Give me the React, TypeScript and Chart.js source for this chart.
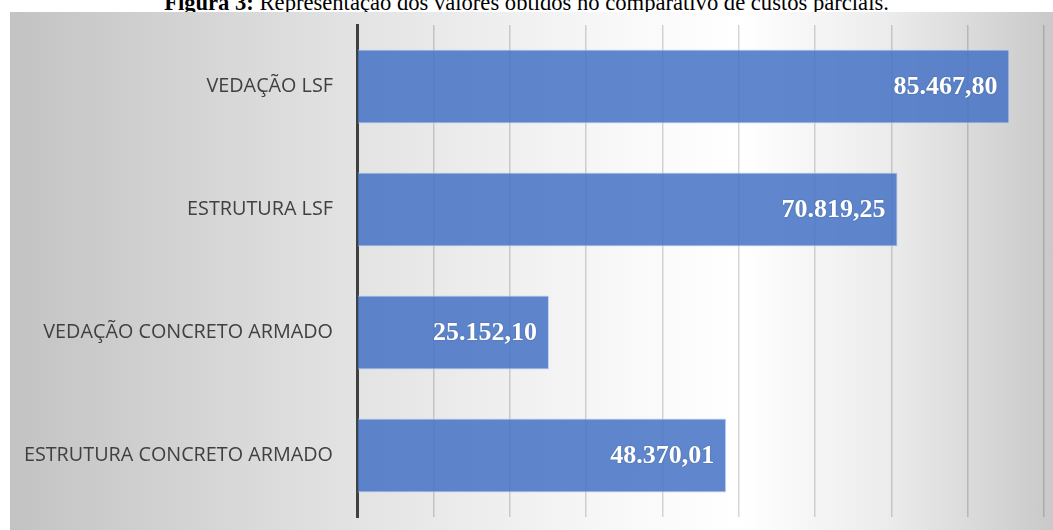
import React, { useEffect, useRef } from "react";
import { Chart, registerables } from "chart.js";

Chart.register(...registerables);

const categories: string[] = [
  "VEDAÇÃO LSF",
  "ESTRUTURA LSF",
  "VEDAÇÃO CONCRETO ARMADO",
  "ESTRUTURA CONCRETO ARMADO",
];
const values: number[] = [85467.8, 70819.25, 25152.1, 48370.01];
const axisMin = 0;
const axisMax = 90000;
const axisStep = 10000;

function formatBR(v: number): string {
  const fixed = v.toFixed(2);
  const [intPart, dec] = fixed.split(".");
  const withDots = intPart.replace(/\B(?=(\d{3})+(?!\d))/g, ".");
  return withDots + "," + dec;
}

const valueLabels = {
  id: "valueLabels",
  afterDatasetsDraw(chart: any) {
    const ctx = chart.ctx;
    const meta = chart.getDatasetMeta(0);
    ctx.save();
    ctx.font = "bold 26px 'Liberation Serif', 'Times New Roman', serif";
    ctx.fillStyle = "#ffffff";
    ctx.textAlign = "right";
    ctx.textBaseline = "middle";
    ctx.shadowColor = "rgba(0,0,0,0.25)";
    ctx.shadowBlur = 2;
    meta.data.forEach((bar: any, i: number) => {
      const v = chart.data.datasets[0].data[i] as number;
      ctx.fillText(formatBR(v), bar.x - 12, bar.y + 1);
    });
    ctx.restore();
  },
};

export default function App() {
  const canvasRef = useRef<HTMLCanvasElement | null>(null);

  useEffect(() => {
    if (!canvasRef.current) return;
    const chart = new Chart(canvasRef.current, {
      type: "bar",
      data: {
        labels: categories,
        datasets: [
          {
            data: values,
            backgroundColor: "rgba(68,114,196,0.85)",
            borderColor: "rgba(190,210,240,0.9)",
            borderWidth: 1,
            categoryPercentage: 1,
            barPercentage: 0.6,
          },
        ],
      },
      options: {
        indexAxis: "y",
        animation: false,
        responsive: true,
        maintainAspectRatio: false,
        layout: { padding: { top: 13, bottom: 13, right: 9, left: 0 } },
        plugins: {
          legend: { display: false },
          tooltip: { enabled: false },
          title: { display: false },
        },
        scales: {
          x: {
            min: axisMin,
            max: axisMax,
            ticks: { stepSize: axisStep, display: false, padding: 0 },
            grid: {
              color: "rgba(0,0,0,0.16)",
              lineWidth: 1.5,
              drawTicks: false,
            },
            border: { display: false },
          },
          y: {
            ticks: {
              color: "#404040",
              padding: 0,
              font: { family: "'Open Sans', sans-serif", size: 19.8 },
            },
            grid: {
              display: true,
              drawOnChartArea: false,
              drawTicks: true,
              tickLength: 24,
              color: "rgba(0,0,0,0)",
            },
            border: { display: true, color: "#404040", width: 3 },
            afterFit: (scale: any) => {
              scale.width = 347;
            },
          },
        },
      },
      plugins: [valueLabels],
    });
    return () => chart.destroy();
  }, []);

  return (
    <div
      style={{
        position: "fixed",
        left: 0,
        top: 0,
        width: 1053,
        height: 530,
        background: "#ffffff",
        overflow: "hidden",
      }}
    >
      <div
        style={{
          position: "absolute",
          left: 0,
          top: -7,
          width: 1053,
          textAlign: "center",
          fontFamily: "'Liberation Serif', 'Times New Roman', serif",
          fontSize: 22.6,
          lineHeight: "20px",
          color: "#000",
          whiteSpace: "nowrap",
        }}
      >
        <b>Figura 3:</b> Representação dos valores obtidos no comparativo de custos parciais.
      </div>
      <div
        style={{
          position: "absolute",
          left: 10,
          top: 12,
          width: 1043,
          height: 518,
          background:
            "linear-gradient(to right, #c3c3c3 0%, #e2e2e2 32%, #f8f8f8 58%, #ffffff 70%, #ececec 84%, #c9c9c9 100%)",
        }}
      >
        <canvas ref={canvasRef} />
      </div>
    </div>
  );
}
